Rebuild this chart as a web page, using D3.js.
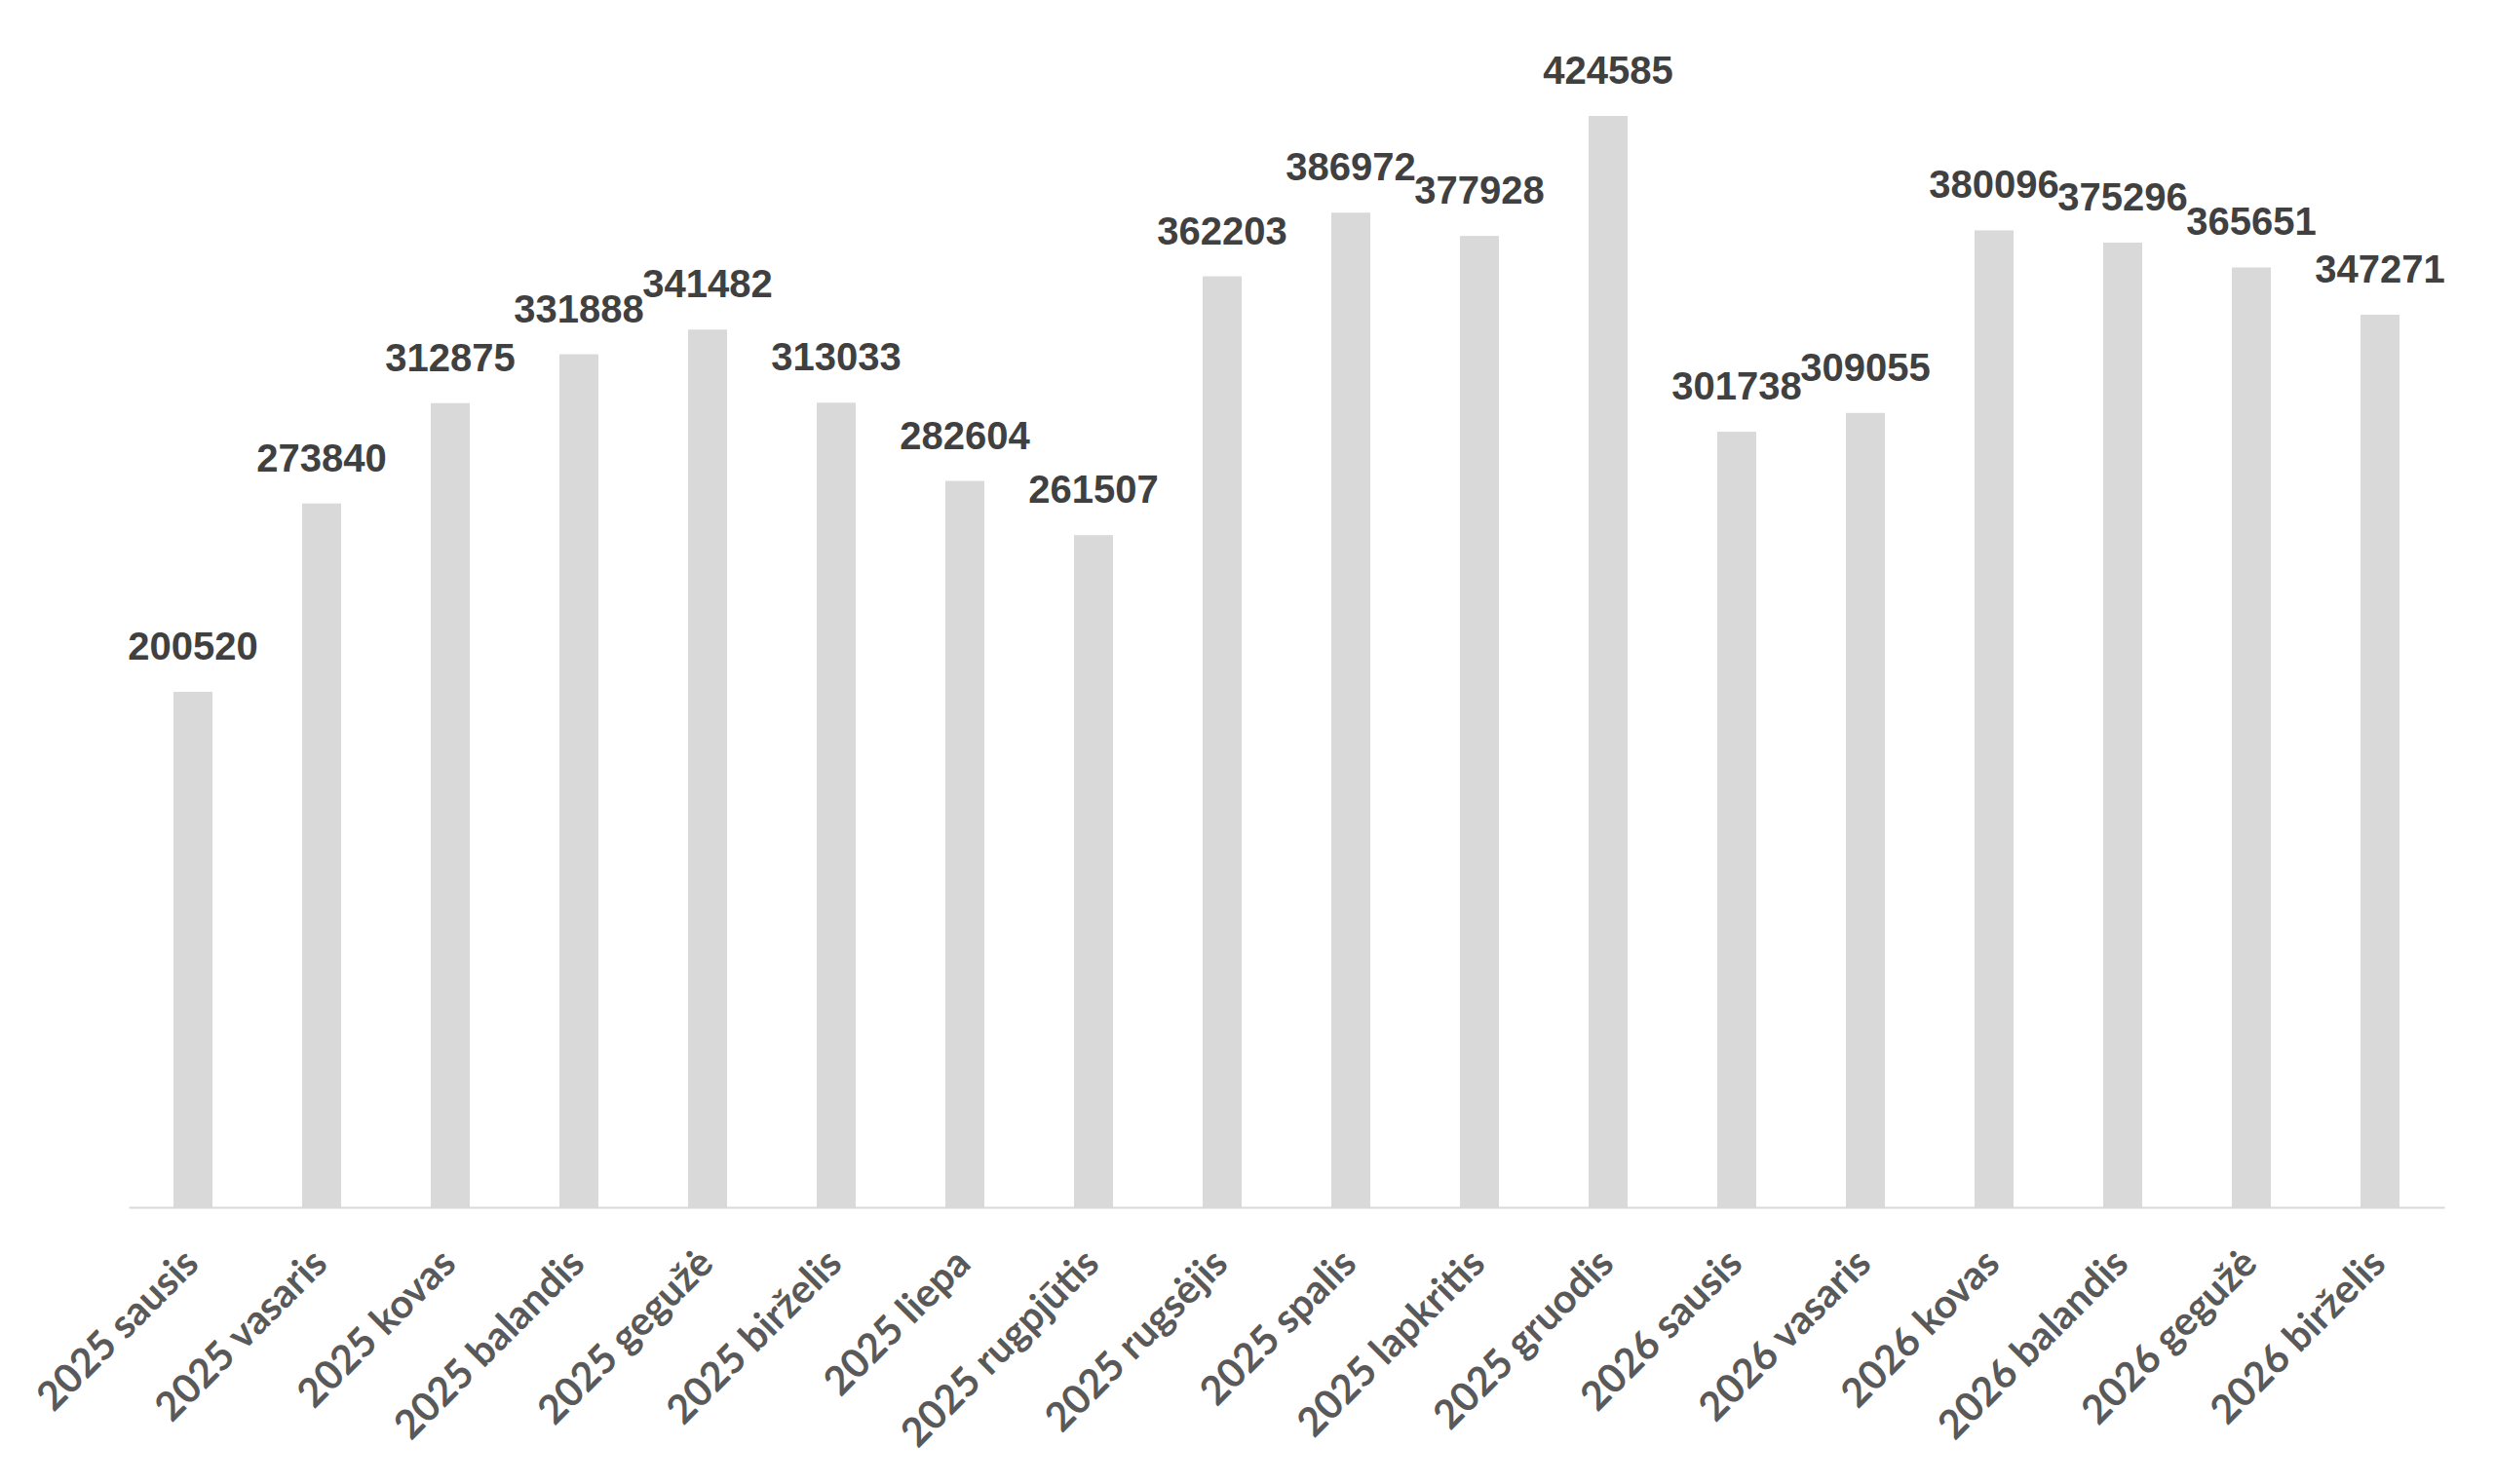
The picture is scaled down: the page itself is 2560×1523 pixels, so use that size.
<!DOCTYPE html>
<html>
<head>
<meta charset="utf-8">
<script src="https://cdn.jsdelivr.net/npm/d3@7"></script>
<style>
  html, body { margin: 0; padding: 0; background: #ffffff; }
  svg { display: block; }
</style>
</head>
<body>
<svg id="chart" width="2560" height="1523"></svg>
<script>
const categories = [
  "2025 sausis", "2025 vasaris", "2025 kovas", "2025 balandis", "2025 gegužė",
  "2025 birželis", "2025 liepa", "2025 rugpjūtis", "2025 rugsėjis", "2025 spalis",
  "2025 lapkritis", "2025 gruodis", "2026 sausis", "2026 vasaris", "2026 kovas",
  "2026 balandis", "2026 gegužė", "2026 birželis"
];
const values = [
  200520, 273840, 312875, 331888, 341482, 313033, 282604, 261507, 362203,
  386972, 377928, 424585, 301738, 309055, 380096, 375296, 365651, 347271
];
const yDomain = [0, 450000];

const svg = d3.select("#chart");
const plotLeft = 132, plotRight = 2508, plotBottom = 1239, plotTop = 52;

const x = d3.scaleBand()
  .domain(categories)
  .range([plotLeft, plotRight])
  .paddingInner(0.697)
  .paddingOuter(0.3485);

const y = d3.scaleLinear()
  .domain(yDomain)
  .range([plotBottom, plotTop]);

const data = categories.map((c, i) => ({ cat: c, val: values[i] }));

svg.append("g").selectAll("rect")
  .data(data)
  .join("rect")
  .attr("x", d => x(d.cat))
  .attr("y", d => y(d.val))
  .attr("width", x.bandwidth())
  .attr("height", d => y(0) - y(d.val))
  .attr("fill", "#d9d9d9");

const axis = svg.append("g")
  .attr("transform", `translate(0,${plotBottom})`)
  .call(d3.axisBottom(x).tickSize(0).tickSizeOuter(0).tickPadding(0));

axis.select(".domain").attr("stroke", "#d9d9d9").attr("stroke-width", 2);
axis.selectAll(".tick line").remove();
axis.selectAll(".tick text")
  .attr("x", 0).attr("y", 0).attr("dy", 0)
  .attr("text-anchor", "end")
  .attr("transform", "translate(8,60) rotate(-45)")
  .attr("fill", "#595959")
  .style("font-family", "Lato, 'Open Sans', sans-serif")
  .style("font-weight", "bold")
  .style("font-size", "41px");

svg.append("g").selectAll("text")
  .data(data)
  .join("text")
  .attr("x", d => x(d.cat) + x.bandwidth() / 2)
  .attr("y", d => y(d.val) - 33)
  .attr("text-anchor", "middle")
  .attr("fill", "#404040")
  .style("font-family", "'Liberation Sans', Arial, sans-serif")
  .style("font-weight", "bold")
  .style("font-size", "40px")
  .text(d => d.val);
</script>
</body>
</html>
